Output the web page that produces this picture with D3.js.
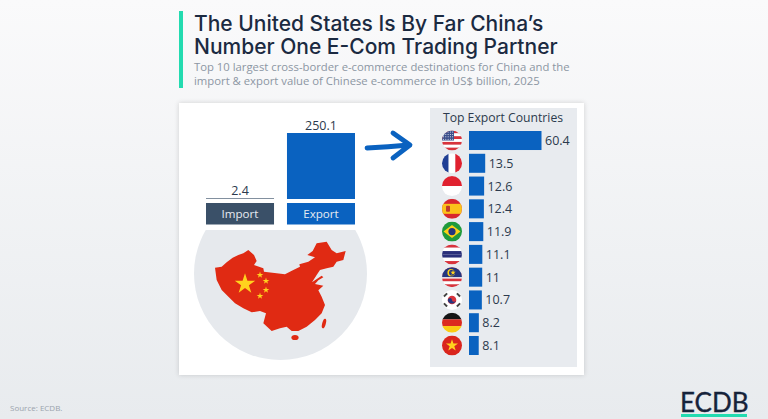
<!DOCTYPE html>
<html lang="en">
<head>
  <meta charset="UTF-8">
  <title>The United States Is By Far China's Number One E-Com Trading Partner</title>
  <script src="https://d3js.org/d3.v7.min.js"></script>
  <style>
    html, body { margin: 0; padding: 0; background: #eceef1; overflow: hidden; }
    svg { display: block; }
    text { font-family: "Open Sans", sans-serif; }
  </style>
</head>
<body>
<svg width="768" height="419"></svg>

<script>
  const flowLabels = ["Import", "Export"];
  const flowValues = [2.4, 250.1];
  const flowColors = ["#3a5068", "#0a62c0"];

  const countries = ["United States", "France", "Indonesia", "Spain", "Brazil", "Thailand", "Malaysia", "South Korea", "Germany", "Vietnam"];
  const exportValues = [60.4, 13.5, 12.6, 12.4, 11.9, 11.1, 11, 10.7, 8.2, 8.1];

  const titleLines = ["The United States Is By Far China’s", "Number One E-Com Trading Partner"];
  const subtitleLines = ["Top 10 largest cross-border e-commerce destinations for China and the",
                         "import & export value of Chinese e-commerce in US$ billion, 2025"];

  const svg = d3.select("svg");
  const defs = svg.append("defs");

  // Background and shadow
  const bg = defs.append("linearGradient").attr("id", "bg").attr("x1", 0).attr("x2", 0).attr("y1", 0).attr("y2", 1);
  bg.append("stop").attr("offset", "0%").attr("stop-color", "#fafafb");
  bg.append("stop").attr("offset", "100%").attr("stop-color", "#e8ebee");
  const shadow = defs.append("filter").attr("id", "shadow").attr("x", "-5%").attr("y", "-5%").attr("width", "110%").attr("height", "110%");
  shadow.append("feDropShadow").attr("dx", 0).attr("dy", 0).attr("stdDeviation", 2.5).attr("flood-color", "#000").attr("flood-opacity", 0.16);

  svg.append("rect").attr("width", 768).attr("height", 419).attr("fill", "url(#bg)");

  // Header
  svg.append("rect").attr("x", 179).attr("y", 11).attr("width", 4).attr("height", 77).attr("fill", "#23dbb0");
  svg.selectAll(".title").data(titleLines).enter().append("text")
      .attr("class", "title")
      .attr("x", 194)
      .attr("y", (d, i) => 31 + i * 22.5)
      .style("font-family", "Inter, sans-serif")
      .style("font-size", "21px")
      .style("font-weight", 500)
      .attr("fill", "#1b2a41")
      .text(d => d);
  svg.selectAll(".subtitle").data(subtitleLines).enter().append("text")
      .attr("class", "subtitle")
      .attr("x", 194)
      .attr("y", (d, i) => 71 + i * 13.5)
      .style("font-size", "11.3px")
      .attr("fill", "#8c96a3")
      .text(d => d);

  // Card and side panel
  svg.append("rect").attr("x", 179).attr("y", 103).attr("width", 405).attr("height", 272)
      .attr("fill", "#fff").attr("filter", "url(#shadow)");
  svg.append("rect").attr("x", 430).attr("y", 108).attr("width", 147).attr("height", 259).attr("fill", "#e8ebef");

  // Import / export columns
  const x = d3.scaleBand().domain(flowLabels).range([206, 355]).paddingInner(0.16);
  const y = d3.scaleLinear().domain([0, 250.1]).range([199, 133]);

  svg.selectAll(".flow-bar").data(flowValues).enter().append("rect")
      .attr("class", "flow-bar")
      .attr("x", (d, i) => x(flowLabels[i]))
      .attr("y", d => y(d))
      .attr("width", x.bandwidth())
      .attr("height", d => y(0) - y(d))
      .attr("fill", (d, i) => flowColors[i]);
  svg.selectAll(".flow-value").data(flowValues).enter().append("text")
      .attr("class", "flow-value")
      .attr("x", (d, i) => x(flowLabels[i]) + x.bandwidth() / 2)
      .attr("y", d => y(d) - 3.5)
      .attr("text-anchor", "middle")
      .style("font-size", "12.5px")
      .attr("fill", "#2c3a4d")
      .text(d => d);
  svg.selectAll(".flow-box").data(flowLabels).enter().append("rect")
      .attr("class", "flow-box")
      .attr("x", d => x(d))
      .attr("y", 203)
      .attr("width", x.bandwidth())
      .attr("height", 21.5)
      .attr("fill", (d, i) => flowColors[i]);
  svg.selectAll(".flow-label").data(flowLabels).enter().append("text")
      .attr("class", "flow-label")
      .attr("x", d => x(d) + x.bandwidth() / 2)
      .attr("y", 218)
      .attr("text-anchor", "middle")
      .style("font-size", "11.6px")
      .attr("fill", "#e6ebf1")
      .text(d => d);

  // Arrow
  svg.append("path")
      .attr("d", "M367,148 Q388,147 409,145 M393,133 L410,145 L393,158")
      .attr("fill", "none").attr("stroke", "#0a62c0").attr("stroke-width", 4.8)
      .attr("stroke-linecap", "round").attr("stroke-linejoin", "round");

  // China map on cut-off circle
  defs.append("clipPath").attr("id", "cut").append("rect").attr("x", 180).attr("y", 230).attr("width", 200).attr("height", 140);
  svg.append("circle").attr("cx", 280.5).attr("cy", 273.5).attr("r", 86.5)
      .attr("fill", "#e6e9ed").attr("clip-path", "url(#cut)");

  // outline, in zoomed crop coordinates
  const outline = [[105,128],[125,125],[140,112],[158,98],[175,90],[190,85],[205,75],[222,90],[230,108],[222,120],[250,130],[252,140],[290,145],[315,148],[340,135],[360,125],[358,118],[385,110],[405,97],[382,90],[398,78],[410,55],[440,50],[455,75],[470,85],[497,78],[490,105],[470,110],[460,125],[440,130],[420,135],[410,150],[396,172],[425,152],[430,157],[415,166],[405,177],[430,182],[415,196],[425,215],[435,240],[425,265],[405,285],[380,305],[355,318],[335,318],[320,305],[300,310],[275,318],[250,295],[258,265],[240,258],[215,262],[190,250],[165,235],[140,210],[125,195],[110,165]];
  const mapLine = d3.line().x(d => 180 + d[0] / 3).y(d => 225 + d[1] / 3);
  svg.append("path").attr("d", mapLine(outline) + "Z").attr("fill", "#e02a13");
  svg.append("ellipse").attr("cx", 295).attr("cy", 337.5).attr("rx", 3.6).attr("ry", 2.6).attr("fill", "#e02a13");
  svg.append("ellipse").attr("cx", 324).attr("cy", 323.5).attr("rx", 1.8).attr("ry", 5).attr("transform", "rotate(15 324 323.5)").attr("fill", "#e02a13");

  const star = d3.symbol().type(d3.symbolStar);
  function addStar(g, cx, cy, size, fill) {
    g.append("path").attr("d", star.size(size)()).attr("transform", `translate(${cx},${cy})`).attr("fill", fill || "#ffd21e");
  }
  const mapStars = svg.append("g");
  addStar(mapStars, 245, 284, 130);
  addStar(mapStars, 260, 275, 14);
  addStar(mapStars, 266, 281, 14);
  addStar(mapStars, 266, 290, 14);
  addStar(mapStars, 260, 296, 14);

  // Top export countries
  svg.append("text").attr("x", 503).attr("y", 122).attr("text-anchor", "middle")
      .style("font-size", "12.2px").attr("fill", "#2c3a4d").text("Top Export Countries");

  const rowY = d3.scaleBand().domain(countries).range([131, 355]).paddingInner(0.165);
  const barX = d3.scaleLinear().domain([0, 60.4]).range([469, 541.5]);

  svg.selectAll(".bar").data(exportValues).enter().append("rect")
      .attr("class", "bar")
      .attr("x", barX(0))
      .attr("y", (d, i) => rowY(countries[i]))
      .attr("width", d => barX(d) - barX(0))
      .attr("height", rowY.bandwidth())
      .attr("fill", "#0a62c0");
  svg.selectAll(".bar-value").data(exportValues).enter().append("text")
      .attr("class", "bar-value")
      .attr("x", d => barX(d) + 3.5)
      .attr("y", (d, i) => rowY(countries[i]) + rowY.bandwidth() / 2 + 4.5)
      .style("font-size", "12.5px")
      .attr("fill", "#2c3a4d")
      .text(d => d);

  // Flags, each drawn in a 20x20 box centred on 0,0
  function bands(g, colors, horizontal) {
    const s = d3.scaleBand().domain(d3.range(colors.length)).range([-10, 10]);
    colors.forEach((c, i) => {
      g.append("rect")
        .attr("x", horizontal ? -10 : s(i)).attr("y", horizontal ? s(i) : -10)
        .attr("width", horizontal ? 20 : s.bandwidth()).attr("height", horizontal ? s.bandwidth() : 20)
        .attr("fill", c);
    });
  }
  const flagDraw = {
    "United States": g => {
      bands(g, d3.range(7).map(i => i % 2 ? "#fff" : "#d8333c"), true);
      g.append("rect").attr("x", -10).attr("y", -10).attr("width", 12).attr("height", 10).attr("fill", "#3c4f8c");
      d3.range(4).forEach(r => d3.range(5).forEach(c => g.append("circle")
        .attr("cx", -8.5 + c * 2.3).attr("cy", -8.5 + r * 2.4).attr("r", 0.5).attr("fill", "#fff")));
    },
    "France": g => bands(g, ["#1f3f94", "#fff", "#e0212f"], false),
    "Indonesia": g => bands(g, ["#e0212f", "#fff"], true),
    "Spain": g => {
      g.append("rect").attr("x", -10).attr("y", -10).attr("width", 20).attr("height", 20).attr("fill", "#d8272e");
      g.append("rect").attr("x", -10).attr("y", -5).attr("width", 20).attr("height", 10).attr("fill", "#fbc21a");
      g.append("rect").attr("x", -6).attr("y", -3).attr("width", 4).attr("height", 6).attr("rx", 1).attr("fill", "#c0392b");
    },
    "Brazil": g => {
      g.append("rect").attr("x", -10).attr("y", -10).attr("width", 20).attr("height", 20).attr("fill", "#1f9a3c");
      g.append("path").attr("d", "M-8.5,0L0,-6.5L8.5,0L0,6.5Z").attr("fill", "#fcd116");
      g.append("circle").attr("r", 3.6).attr("fill", "#24357d");
    },
    "Thailand": g => bands(g, ["#d8333c", "#fff", "#2a2f7a", "#2a2f7a", "#fff", "#d8333c"], true),
    "Malaysia": g => {
      bands(g, d3.range(7).map(i => i % 2 ? "#fff" : "#d8333c"), true);
      g.append("rect").attr("x", -10).attr("y", -10).attr("width", 20).attr("height", 10).attr("fill", "#24367f");
      g.append("circle").attr("cx", -1).attr("cy", -4.5).attr("r", 3.6).attr("fill", "#fcd116");
      g.append("circle").attr("cx", 0).attr("cy", -4.5).attr("r", 3).attr("fill", "#24367f");
      addStar(g, 1, -4.5, 9);
    },
    "South Korea": g => {
      g.append("rect").attr("x", -10).attr("y", -10).attr("width", 20).attr("height", 20).attr("fill", "#fff");
      g.append("circle").attr("r", 4.3).attr("fill", "#d8333c");
      g.append("path").attr("d", "M-4.2,0.6A4.3,4.3 0 0 0 4.2,-0.6A2.1,2.1 0 0 1 0,0A2.1,2.1 0 0 0 -4.2,0.6Z").attr("fill", "#24367f");
      [[-6.5,-5],[6.5,-5],[-6.5,5],[6.5,5]].forEach(p => g.append("line")
        .attr("x1", p[0] - 1.6).attr("x2", p[0] + 1.6).attr("y1", p[1] + (p[0] * p[1] > 0 ? 1.6 : -1.6)).attr("y2", p[1] - (p[0] * p[1] > 0 ? 1.6 : -1.6))
        .attr("stroke", "#444").attr("stroke-width", 2));
    },
    "Germany": g => bands(g, ["#151515", "#dc2a1f", "#fbcb12"], true),
    "Vietnam": g => {
      g.append("rect").attr("x", -10).attr("y", -10).attr("width", 20).attr("height", 20).attr("fill", "#da251d");
      addStar(g, 0, 0, 45);
    }
  };
  countries.forEach((c, i) => {
    const cy = rowY(c) + rowY.bandwidth() / 2;
    defs.append("clipPath").attr("id", "flag" + i).append("circle").attr("r", 10);
    const g = svg.append("g").attr("transform", `translate(452,${cy})`)
      .append("g").attr("clip-path", `url(#flag${i})`);
    flagDraw[c](g);
  });

  // Footer
  svg.append("text").attr("x", 10).attr("y", 411).style("font-size", "8px").attr("fill", "#9aa3ad").text("Source: ECDB.");
  svg.append("text").attr("x", 680).attr("y", 412)
      .style("font-family", "Lato, sans-serif").style("font-size", "26px").style("font-weight", 400)
      .style("stroke", "#16233a").style("stroke-width", 0.35)
      .attr("fill", "#16233a").text("ECDB");
  svg.append("rect").attr("x", 681).attr("y", 414).attr("width", 66).attr("height", 3).attr("fill", "#23dbb0");
</script>

</body>
</html>
